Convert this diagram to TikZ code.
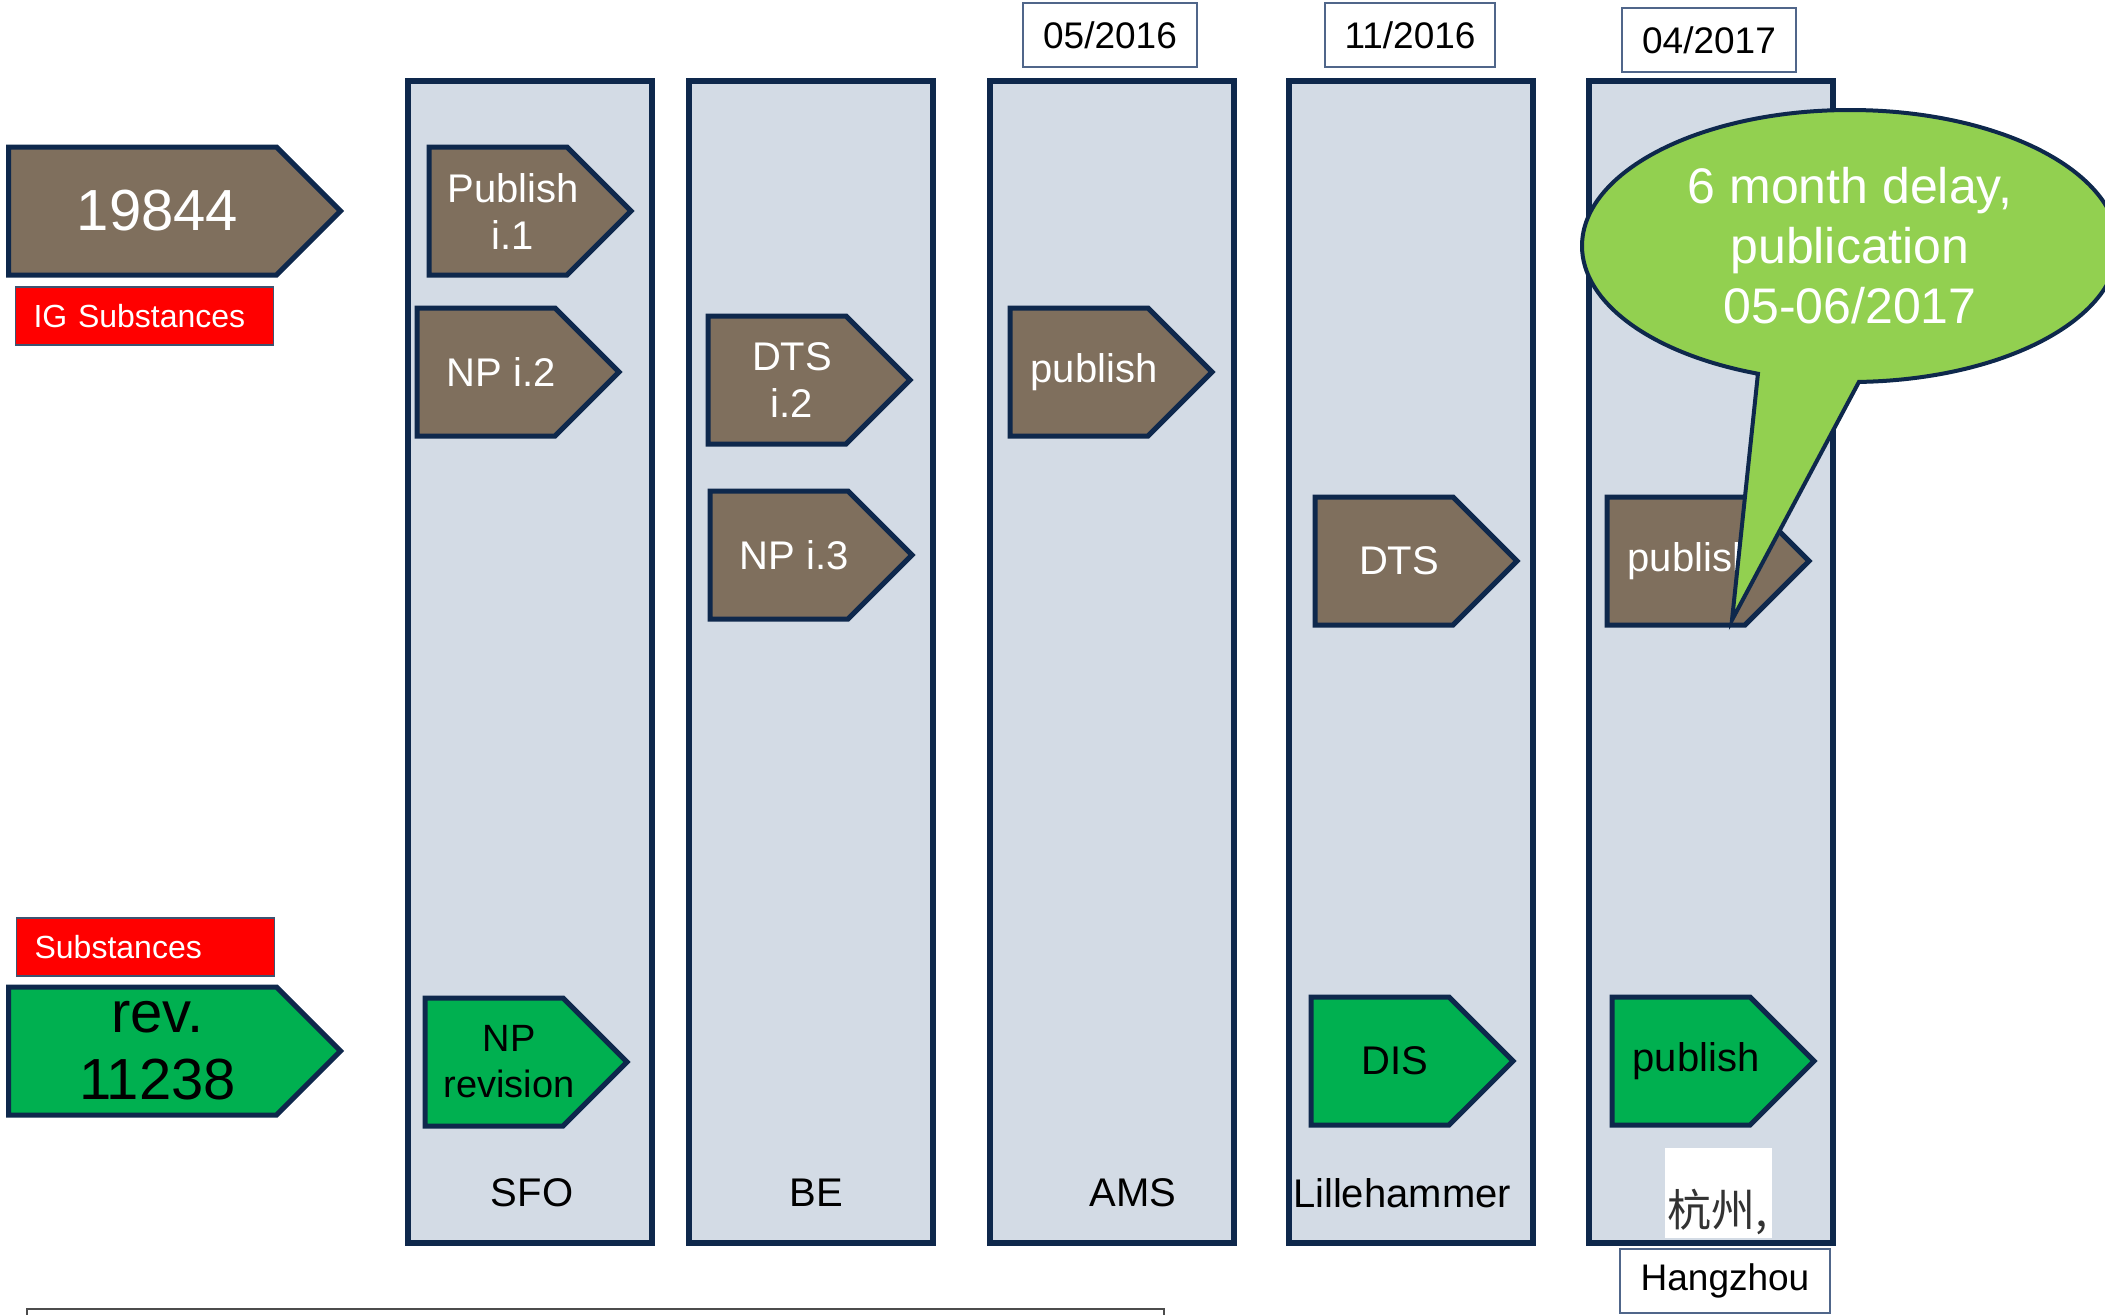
\documentclass[tikz,border=0pt]{standalone}
\usepackage{fontspec}
\setmainfont{Liberation Sans}
\newfontfamily\cjkfont{Noto Sans CJK SC}
\usetikzlibrary{shapes.symbols,shapes.callouts,positioning}

\definecolor{meetnavy}{RGB}{14,40,76}
\definecolor{meetblue}{RGB}{211,219,229}
\definecolor{stagebrown}{RGB}{127,111,93}
\definecolor{stagegreen}{RGB}{0,176,80}
\definecolor{calloutgreen}{RGB}{146,208,80}
\definecolor{dateframe}{RGB}{80,102,138}

\tikzset{
  meeting/.style={draw=meetnavy, line width=3pt, fill=meetblue, minimum width=122pt, minimum height=581pt, inner sep=0pt},
  stagebox/.style={signal, signal to=east, signal pointer angle=90, draw=meetnavy, line width=2.5pt,
    minimum width=101pt, minimum height=64pt, inner sep=2pt, anchor=west},
  stagelabel/.style={align=center, xshift=7.5pt, font=\fontsize{20}{23.5}\selectfont},
  oldstage/.style={stagebox, fill=stagebrown, label={[stagelabel, text=white]center:{#1}}},
  newstage/.style={stagebox, fill=stagegreen, label={[stagelabel, text=black]center:{#1}}},
  datebox/.style={draw=dateframe, line width=0.8pt, fill=white, minimum height=32pt, inner sep=0pt,
    font=\fontsize{18.5}{20}\selectfont},
  redtag/.style={draw=meetnavy!80, line width=0.6pt, fill=red, text=white, minimum height=29pt,
    text width=111pt, align=left, inner xsep=9pt, anchor=west, font=\fontsize{16}{18}\selectfont},
  citylabel/.style={font=\fontsize{20}{22}\selectfont},
}

\begin{document}
\begin{tikzpicture}[x=0.5pt, y=-0.5pt]
\useasboundingbox[fill=white] (0,0) rectangle (2105,1314);

% meetings
\node[meeting] (sfo) at (530,662) {};
\node[meeting] (be) at (811,662) {};
\node[meeting] (ams) at (1112,662) {};
\node[meeting] (lil) at (1411,662) {};
\node[meeting] (hgz) at (1711,662) {};

\node[datebox, minimum width=87pt] (amsdate) at (1110,35) {05/2016};
\node[datebox, minimum width=85pt] (lildate) at (1410,35) {11/2016};
\node[datebox, minimum width=87pt] (hgzdate) at (1709,40) {04/2017};

\node[citylabel] (sfoname) at (532,1193) {SFO};
\node[citylabel] (bename) at (816,1193) {BE};
\node[citylabel] (amsname) at (1133,1193) {AMS};
\node[citylabel] (lilname) at (1402,1193) {Lillehammer};
\node[fill=white, minimum width=53.5pt, minimum height=45pt, inner sep=0pt, text=black!80,
  text height=36pt, text depth=3pt, font=\cjkfont\fontsize{22}{22}\selectfont] (hgzcn) at (1718,1193) {杭州,};
\node[datebox, minimum width=105pt] (hgzname) at (1725,1281) {Hangzhou};

% work items
\node[stagebox, fill=stagebrown, minimum width=166pt,
  label={[stagelabel, text=white, font=\fontsize{29}{30}\selectfont]center:19844}] (wi19844) at (6,211) {};
\node[redtag] (igtag) at (15,316) {IG Substances};
\node[redtag] (subtag) at (16,947) {Substances};
\node[stagebox, fill=stagegreen, minimum width=166pt,
  label={[stagelabel, font=\fontsize{29}{33.5}\selectfont]center:{rev.\\11238}}] (wi11238) at (6,1051) {};

\node[oldstage={Publish\\i.1}] (pubi1) at (426.5,211) {};
\node[oldstage={NP i.2}] (npi2) at (414.5,372) {};
\node[stagebox, fill=stagegreen,
  label={[stagelabel, font=\fontsize{19}{23}\selectfont]center:{NP\\revision}}] (nprev) at (422.5,1062) {};

\node[oldstage={DTS\\i.2}] (dtsi2) at (705.5,380) {};
\node[oldstage={NP i.3}] (npi3) at (707.5,555) {};

\node[oldstage={publish}] (amspub) at (1007.5,372) {};

\node[oldstage={DTS}] (lildts) at (1312.5,561) {};
\node[newstage={DIS}] (lildis) at (1308.5,1061) {};

\node[oldstage={publish}] (hgzpub) at (1604.5,561) {};
\node[newstage={publish}] (hgzis) at (1609.5,1061) {};

\node[ellipse callout, draw=meetnavy, line width=2pt, fill=calloutgreen, text=white, inner sep=0pt,
  minimum width=268pt, minimum height=136pt, callout absolute pointer={(1732,620)}, callout pointer arc=22,
  align=center, font=\fontsize{25}{30}\selectfont] (delay) at (1850,246) {6 month delay,\\publication\\05-06/2017};

\draw[line width=0.8pt, black!70] (27,1316) |- (1164,1309) -- (1164,1316);
\end{tikzpicture}
\end{document}
